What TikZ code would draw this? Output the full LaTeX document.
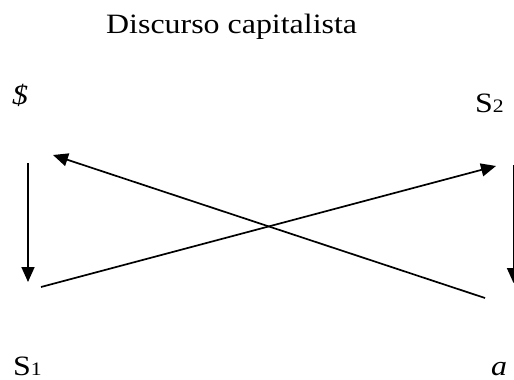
\documentclass[tikz,border=0pt]{standalone}
\usepackage{fontspec}
\setmainfont{Liberation Serif}
\usetikzlibrary{arrows.meta}
\tikzset{
  lbl/.style={inner sep=0pt, anchor=base west, font=\fontsize{28}{30}\selectfont},
  conn/.style={line width=1.7pt, -{Triangle[length=15pt,width=13pt]}},
}
\newcommand{\wide}[1]{\scalebox{1.14}[1]{#1}}
\newcommand{\subdig}[1]{{\fontsize{19}{20}\selectfont #1}}
\begin{document}
\begin{tikzpicture}[x=1pt,y=-1pt]
\useasboundingbox (0,0) rectangle (514,380);
\node[lbl] (title) at (106,33) {\wide{Discurso capitalista}};
\node[lbl] (sbar) at (12,104) {\wide{\itshape \$}};
\node[lbl] (s2) at (475,112) {\wide{S\subdig{2}}};
\node[lbl] (s1) at (13,375) {\wide{S\subdig{1}}};
\node[lbl] (a) at (491,375) {\wide{\itshape a}};
\coordinate (l1) at (28,163);
\coordinate (l2) at (28,282);
\coordinate (c1a) at (41,287);
\coordinate (c1b) at (496,166);
\coordinate (c2a) at (485,298);
\coordinate (c2b) at (53,155);
\coordinate (r1) at (513.5,165);
\coordinate (r2) at (513.5,283);
\draw[conn] (l1) -- (l2);
\draw[conn] (c1a) -- (c1b);
\draw[conn] (c2a) -- (c2b);
\draw[conn] (r1) -- (r2);
\end{tikzpicture}
\end{document}
